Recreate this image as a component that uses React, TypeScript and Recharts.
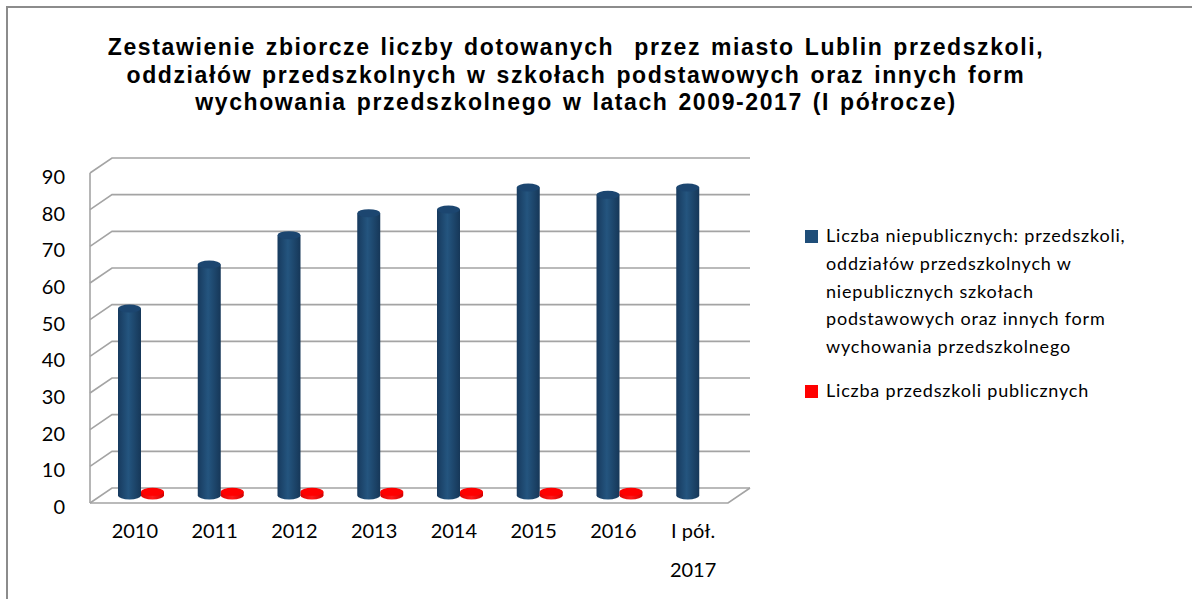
import { BarChart, Bar, XAxis, YAxis, CartesianGrid } from "recharts";

const categories = ["2010", "2011", "2012", "2013", "2014", "2015", "2016", "I pół. 2017"];
const niepubliczne = [51, 63, 71, 77, 78, 84, 82, 84];
const publiczne: (number | null)[] = [1, 1, 1, 1, 1, 1, 1, null];
const yTicks = [0, 10, 20, 30, 40, 50, 60, 70, 80, 90];

const titleLines = [
  "Zestawienie zbiorcze liczby dotowanych  przez miasto Lublin przedszkoli,",
  "oddziałów przedszkolnych w szkołach podstawowych oraz innych form",
  "wychowania przedszkolnego w latach 2009-2017 (I półrocze)",
];

const legendItems = [
  {
    color: "#1F4E79",
    lines: [
      "Liczba niepublicznych: przedszkoli,",
      "oddziałów przedszkolnych w",
      "niepublicznych szkołach",
      "podstawowych oraz innych form",
      "wychowania przedszkolnego",
    ],
  },
  { color: "#FF0000", lines: ["Liczba przedszkoli publicznych"] },
];

const data = categories.map((name, i) => ({
  name,
  niepubliczne: niepubliczne[i],
  publiczne: publiczne[i],
}));

const W = 1192;
const H = 599;
const Y_W = 40;
const X_H = 30;
const margin = { top: 165.5, right: 453, bottom: 103.5 - X_H, left: 101 - Y_W };
const PLOT_H = 330;
const DX = 11;
const DY = 7.5;
const GRID = "#a4a4a4";
const FONT = "Lato, 'Open Sans', sans-serif";

// 3d-ish wall: front edge -> back edge -> back wall line
const gridLine = (p: any) => {
  const { x1, x2, y1, index } = p;
  const isFloor = index === 0;
  return (
    <g key={p.key}>
      <polyline
        points={`${x1 - DX},${y1 + DY} ${x1 + DX},${y1 - DY} ${x2 + DX},${y1 - DY}`}
        fill="none"
        stroke={GRID}
        strokeWidth={1.6}
      />
      {isFloor && (
        <>
          <polyline
            points={`${x1 - DX},${y1 + DY} ${x2 - DX},${y1 + DY} ${x2 + DX},${y1 - DY}`}
            fill="none"
            stroke={GRID}
            strokeWidth={1.6}
          />
          <line x1={x1 - DX} y1={y1 + DY} x2={x1 - DX} y2={y1 + DY - PLOT_H} stroke={GRID} strokeWidth={1.6} />
        </>
      )}
    </g>
  );
};

const Cylinder = (props: any) => {
  const { x, y, width, height, gradId, capFill, dataKey, payload } = props;
  if (payload == null || payload[dataKey] == null) return null;
  const rx = width / 2;
  const ry = 4;
  const bottom = y + height;
  return (
    <g>
      <path
        d={`M${x},${y} L${x},${bottom} A${rx},${ry} 0 0 0 ${x + width},${bottom} L${x + width},${y} Z`}
        fill={`url(#${gradId})`}
      />
      <ellipse cx={x + rx} cy={y} rx={rx} ry={ry} fill={capFill} />
    </g>
  );
};

const renderYTick = (props: any) => {
  const { y, payload } = props;
  return (
    <text key={payload.value} x={65} y={y + DY + 11} textAnchor="end" fontSize={20} fill="#000" fontFamily={FONT}>
      {payload.value}
    </text>
  );
};

const renderXTick = (props: any) => {
  const { x, payload } = props;
  const v: string = payload.value;
  const parts = v.startsWith("I pół.") ? ["I pół.", "2017"] : [v];
  const base = 165.5 + PLOT_H + 42;
  return (
    <text key={v} x={x - 6} y={base} textAnchor="middle" fontSize={20} fill="#000" fontFamily={FONT}>
      {parts.map((t, i) => (
        <tspan key={i} x={x - 6} dy={i === 0 ? 0 : 39}>
          {t}
        </tspan>
      ))}
    </text>
  );
};

export default function App() {
  return (
    <div style={{ position: "absolute", left: 0, top: 0, width: W, height: H, background: "#fff", overflow: "hidden" }}>
      <div
        style={{
          position: "absolute",
          left: 6,
          top: 6,
          width: W,
          height: H,
          borderLeft: "2px solid #8c8c8c",
          borderTop: "2px solid #8c8c8c",
        }}
      />
      <div
        style={{
          position: "absolute",
          left: 0,
          top: 34,
          width: 1152,
          textAlign: "center",
          fontFamily: "'Liberation Sans', Arial, sans-serif",
          fontWeight: "bold",
          fontSize: 23,
          letterSpacing: 1.6,
          wordSpacing: 2,
          lineHeight: "27.5px",
          whiteSpace: "pre",
          color: "#000",
        }}
      >
        {titleLines.map((l, i) => (
          <div key={i}>{l}</div>
        ))}
      </div>
      <div style={{ position: "absolute", left: 0, top: 0 }}>
        <BarChart width={W} height={H} data={data} margin={margin} barGap={0} barSize={23}>
          <defs>
            <linearGradient id="blueGrad" x1="0" y1="0" x2="1" y2="0">
              <stop offset="0%" stopColor="#173a5e" />
              <stop offset="45%" stopColor="#24557f" />
              <stop offset="100%" stopColor="#163758" />
            </linearGradient>
            <linearGradient id="redGrad" x1="0" y1="0" x2="1" y2="0">
              <stop offset="0%" stopColor="#e00000" />
              <stop offset="50%" stopColor="#ff1a1a" />
              <stop offset="100%" stopColor="#d00000" />
            </linearGradient>
          </defs>
          <CartesianGrid horizontal={gridLine} vertical={false} />
          <XAxis dataKey="name" axisLine={false} tickLine={false} height={X_H} interval={0} tick={renderXTick} />
          <YAxis domain={[0, 90]} ticks={yTicks} width={Y_W} axisLine={false} tickLine={false} interval={0} tick={renderYTick} />
          <Bar
            dataKey="niepubliczne"
            name="Liczba niepublicznych"
            isAnimationActive={false}
            shape={(p: any) => <Cylinder {...p} dataKey="niepubliczne" gradId="blueGrad" capFill="#1c4670" />}
          />
          <Bar
            dataKey="publiczne"
            name="Liczba przedszkoli publicznych"
            isAnimationActive={false}
            shape={(p: any) => <Cylinder {...p} dataKey="publiczne" gradId="redGrad" capFill="#ff0000" />}
          />
        </BarChart>
      </div>
      <div style={{ position: "absolute", left: 805, top: 222, fontFamily: FONT, fontSize: 18, letterSpacing: 0.8, color: "#000" }}>
        {legendItems.map((item, i) => (
          <div key={i} style={{ display: "flex", alignItems: "flex-start", marginBottom: 16 }}>
            <div style={{ width: 13, height: 13, background: item.color, marginTop: 8, marginRight: 8, flexShrink: 0 }} />
            <div style={{ lineHeight: "27.8px" }}>
              {item.lines.map((l, j) => (
                <div key={j} style={{ whiteSpace: "nowrap" }}>{l}</div>
              ))}
            </div>
          </div>
        ))}
      </div>
    </div>
  );
}
